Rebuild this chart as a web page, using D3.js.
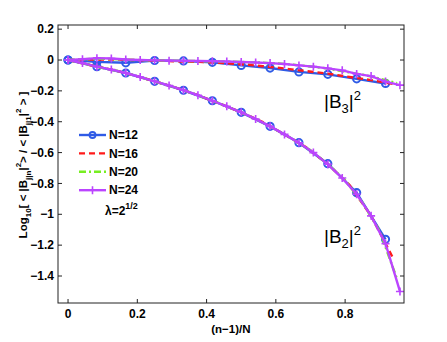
<!DOCTYPE html>
<html>
<head>
<meta charset="utf-8">
<script src="https://cdn.jsdelivr.net/npm/d3@7"></script>
<style>
  body { margin: 0; background: #fff; }
  svg { font-family: "Liberation Sans", Arial, sans-serif; }
</style>
</head>
<body>
<div id="chart"></div>
<script>
const sizes = [12, 16, 20, 24];
const seriesColors = ["#2f5be6", "#ff1a1a", "#77ee22", "#bb44ff"];
const xTicks = [0, 0.2, 0.4, 0.6, 0.8];
const yTicks = [0.2, 0, -0.2, -0.4, -0.6, -0.8, -1, -1.2, -1.4];

// |B2|^2 curves, one value per n = 1..N
const b2N12 = [0, -0.043, -0.084, -0.138, -0.196, -0.264, -0.339, -0.43, -0.536, -0.672, -0.86, -1.162];
const b2N16 = [0, -0.032, -0.062, -0.097, -0.138, -0.18, -0.228, -0.282, -0.339, -0.403, -0.482, -0.566, -0.675, -0.81, -1.01, -1.28];
const b2N20 = [0, -0.025, -0.052, -0.074, -0.105, -0.138, -0.171, -0.208, -0.25, -0.293, -0.339, -0.39, -0.452, -0.514, -0.585, -0.675, -0.78, -0.925, -1.11, -1.42];
const b2N24 = [0, -0.02, -0.043, -0.062, -0.084, -0.11, -0.138, -0.165, -0.196, -0.228, -0.264, -0.3, -0.339, -0.382, -0.43, -0.482, -0.536, -0.6, -0.676, -0.765, -0.87, -1.01, -1.19, -1.5];

// |B3|^2 curves
const b3N12 = [0, -0.012, -0.018, -0.003, -0.006, -0.015, -0.035, -0.052, -0.077, -0.093, -0.122, -0.152];
const b3N16 = [0, 0.003, 0.004, 0, -0.004, -0.008, -0.012, -0.018, -0.027, -0.04, -0.055, -0.072, -0.088, -0.11, -0.13, -0.155];
const b3N20 = [0, 0.006, 0.008, 0.004, 0, -0.003, -0.005, -0.006, -0.008, -0.01, -0.013, -0.016, -0.022, -0.03, -0.042, -0.055, -0.075, -0.095, -0.12, -0.15];
const b3N24 = [0, 0.005, 0.012, 0.01, 0.003, 0, -0.002, -0.004, -0.005, -0.006, -0.008, -0.01, -0.013, -0.016, -0.02, -0.026, -0.035, -0.043, -0.054, -0.067, -0.09, -0.104, -0.14, -0.163];

const b2Series = [b2N12, b2N16, b2N20, b2N24];
const b3Series = [b3N12, b3N16, b3N20, b3N24];

const dashes = [null, "6,4", "7,3,2,3", null];
const markers = ["circle", null, null, "plus"];

const W = 447, H = 342;
const margin = { top: 25, right: 43, bottom: 39, left: 58 };
const width = W - margin.left - margin.right;
const height = H - margin.top - margin.bottom;

const svg = d3.select("#chart").append("svg")
  .attr("width", W).attr("height", H);

const g = svg.append("g").attr("transform", `translate(${margin.left},${margin.top})`);

const x = d3.scaleLinear().domain([-0.029, 0.97]).range([0, width]);
const y = d3.scaleLinear().domain([-1.575, 0.227]).range([height, 0]);

const line = d3.line().x(d => x(d[0])).y(d => y(d[1]));

// turn a series into [x, y] pairs with x = (n-1)/N
const toPoints = (vals) => vals.map((v, i) => [i / vals.length, v]);

function drawSeries(vals, i) {
  const pts = toPoints(vals);
  g.append("path")
    .datum(pts)
    .attr("fill", "none")
    .attr("stroke", seriesColors[i])
    .attr("stroke-width", 2.4)
    .attr("stroke-dasharray", dashes[i])
    .attr("d", line);
  if (markers[i] === "circle") {
    g.selectAll(null).data(pts).enter().append("circle")
      .attr("cx", d => x(d[0])).attr("cy", d => y(d[1]))
      .attr("r", 3.6)
      .attr("fill", "none")
      .attr("stroke", seriesColors[i])
      .attr("stroke-width", 2);
  } else if (markers[i] === "plus") {
    g.selectAll(null).data(pts).enter().append("path")
      .attr("d", d => `M${x(d[0]) - 4},${y(d[1])}h8M${x(d[0])},${y(d[1]) - 4}v8`)
      .attr("stroke", seriesColors[i])
      .attr("stroke-width", 1.6);
  }
}

sizes.forEach((n, i) => {
  drawSeries(b3Series[i], i);
  drawSeries(b2Series[i], i);
});

// axes box with inward ticks (matlab style)
const axisColor = "#222";
g.append("rect")
  .attr("width", width).attr("height", height)
  .attr("fill", "none").attr("stroke", axisColor).attr("stroke-width", 1);

const tickLen = 4;
xTicks.forEach(t => {
  g.append("line").attr("x1", x(t)).attr("x2", x(t)).attr("y1", height).attr("y2", height - tickLen).attr("stroke", axisColor);
  g.append("line").attr("x1", x(t)).attr("x2", x(t)).attr("y1", 0).attr("y2", tickLen).attr("stroke", axisColor);
  g.append("text").attr("x", x(t)).attr("y", height + 15)
    .attr("text-anchor", "middle").attr("font-size", 12).attr("font-weight", "bold")
    .text(t);
});
yTicks.forEach(t => {
  g.append("line").attr("x1", 0).attr("x2", tickLen).attr("y1", y(t)).attr("y2", y(t)).attr("stroke", axisColor);
  g.append("line").attr("x1", width).attr("x2", width - tickLen).attr("y1", y(t)).attr("y2", y(t)).attr("stroke", axisColor);
  g.append("text").attr("x", -4).attr("y", y(t)).attr("dy", "0.35em")
    .attr("text-anchor", "end").attr("font-size", 12).attr("font-weight", "bold")
    .text(t === 0 ? "0" : d3.format("")(t).replace("-", "\u2212"));
});

// axis labels
svg.append("text")
  .attr("x", margin.left + x(0.47)).attr("y", 333)
  .attr("text-anchor", "middle").attr("font-size", 11.5).attr("font-weight", "bold")
  .text("(n\u22121)/N");

const yl = svg.append("text")
  .attr("transform", "translate(27,165) rotate(-90)")
  .attr("text-anchor", "middle").attr("font-size", 11.5).attr("font-weight", "bold");
yl.append("tspan").text("Log");
yl.append("tspan").attr("font-size", 8).attr("dy", 4).text("10");
yl.append("tspan").attr("dy", -4).text("[ < |B");
yl.append("tspan").attr("font-size", 8).attr("dy", 4).text("j|n");
yl.append("tspan").attr("dy", -4).text("|");
yl.append("tspan").attr("font-size", 8).attr("dy", -6).text("2");
yl.append("tspan").attr("dy", 6).text("> / < |B");
yl.append("tspan").attr("font-size", 8).attr("dy", 4).text("j|1");
yl.append("tspan").attr("dy", -4).text("|");
yl.append("tspan").attr("font-size", 8).attr("dy", -6).text("2");
yl.append("tspan").attr("dy", 6).text(" > ]");

// curve labels
function curveLabel(sub, px, py) {
  const t = svg.append("text").attr("x", px).attr("y", py).attr("font-size", 19);
  t.append("tspan").text("|B");
  t.append("tspan").attr("font-size", 13).attr("dy", 5).text(sub);
  t.append("tspan").attr("dy", -5).text("|");
  t.append("tspan").attr("font-size", 13).attr("dy", -8).text("2");
}
curveLabel("3", 324, 108);
curveLabel("2", 324, 243);

// legend
const legend = svg.append("g");
sizes.forEach((n, i) => {
  const ly = 135 + i * 18.4;
  legend.append("line").attr("x1", 79).attr("x2", 106).attr("y1", ly).attr("y2", ly)
    .attr("stroke", seriesColors[i]).attr("stroke-width", 2.4)
    .attr("stroke-dasharray", dashes[i]);
  if (markers[i] === "circle") {
    legend.append("circle").attr("cx", 92.5).attr("cy", ly).attr("r", 3)
      .attr("fill", "none").attr("stroke", seriesColors[i]).attr("stroke-width", 1.8);
  } else if (markers[i] === "plus") {
    legend.append("path").attr("d", `M88.5,${ly}h8M92.5,${ly - 4}v8`)
      .attr("stroke", seriesColors[i]).attr("stroke-width", 1.6);
  }
  legend.append("text").attr("x", 109).attr("y", ly).attr("dy", "0.35em")
    .attr("font-size", 12).attr("font-weight", "bold").text("N=" + n);
});
const lam = svg.append("text").attr("x", 105).attr("y", 215)
  .attr("font-size", 12).attr("font-weight", "bold");
lam.append("tspan").text("\u03bb=2");
lam.append("tspan").attr("font-size", 9).attr("dy", -6).text("1/2");
</script>
</body>
</html>
